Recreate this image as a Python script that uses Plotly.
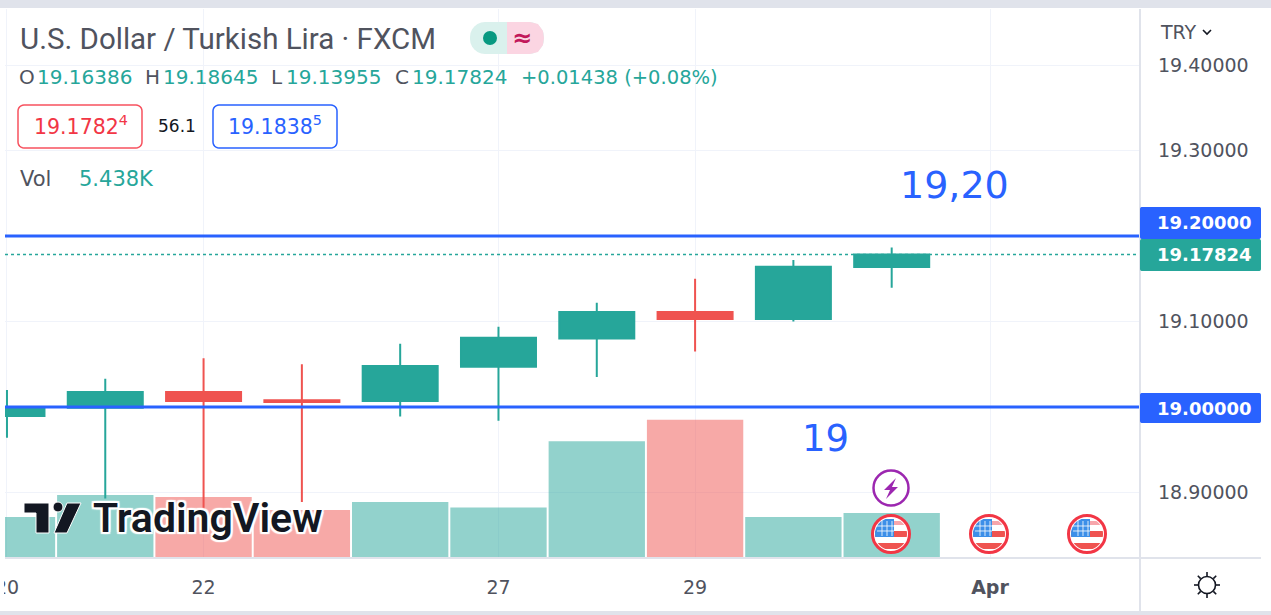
import math
import plotly.graph_objects as go

W, H = 1271, 615
L, R, T, B = 5, 1140, 9, 558

days = ["Mar 20", "Mar 21", "Mar 22", "Mar 23", "Mar 24", "Mar 27", "Mar 28", "Mar 29", "Mar 30", "Mar 31", "Apr 3", "Apr 4"]
candle_days = days[:10]
opens = [18.9895, 18.999, 19.0175, 19.008, 19.007, 19.047, 19.08, 19.111, 19.103, 19.16386]
highs = [19.02, 19.033, 19.057, 19.05, 19.074, 19.094, 19.122, 19.15, 19.172, 19.18645]
lows = [18.964, 18.893, 18.88, 18.889, 18.989, 18.984, 19.035, 19.065, 19.1, 19.13955]
closes = [19.0, 19.0175, 19.007, 19.006, 19.048, 19.081, 19.111, 19.103, 19.164, 19.17824]
volumes = [4.95, 7.6, 7.37, 5.8, 6.77, 6.1, 14.1, 16.7, 4.95, 5.438]
price_ticks = [18.9, 19.0, 19.1, 19.2, 19.3, 19.4]
price_ticktext = ["18.90000", "", "19.10000", "", "19.30000", "19.40000"]
time_tickvals = ["Mar 20", "Mar 22", "Mar 27", "Mar 29", "Apr 3"]
time_ticktext = ["20", "22", "27", "29", "<b>Apr</b>"]
level_lines = [19.0, 19.2]
last_price = 19.17824

GREEN, RED, BLUE = "#26a69a", "#ef5350", "#2962ff"
GREY = "#50535e"
FONT = "DejaVu Sans"
LINE = "#e0e3eb"
GRID = "#f0f3fa"


def fx(px):
    return px / W


def fy(py):
    return 1 - py / H


def poly(points, close=True):
    s = "M" + " L".join(f"{fx(x):.5f},{fy(y):.5f}" for x, y in points)
    return s + (" Z" if close else "")


def rrect(x0, y0, x1, y1, r, fill=None, line=None, lw=0):
    pts = []
    corners = [(x1 - r, y0 + r, -90), (x1 - r, y1 - r, 0), (x0 + r, y1 - r, 90), (x0 + r, y0 + r, 180)]
    for cx, cy, a0 in corners:
        for k in range(7):
            a = math.radians(a0 + 15 * k)
            pts.append((cx + r * math.cos(a), cy + r * math.sin(a)))
    return dict(type="path", xref="paper", yref="paper", path=poly(pts), fillcolor=fill or "rgba(0,0,0,0)",
                line=dict(color=line or "rgba(0,0,0,0)", width=lw), layer="above")


def shape_poly(points, fill=None, line=None, lw=0, close=True):
    return dict(type="path", xref="paper", yref="paper", path=poly(points, close),
                fillcolor=fill or "rgba(0,0,0,0)", line=dict(color=line or "rgba(0,0,0,0)", width=lw), layer="above")


def circle(cx, cy, r, fill=None, line=None, lw=0):
    return dict(type="circle", xref="paper", yref="paper", x0=fx(cx - r), x1=fx(cx + r), y0=fy(cy + r), y1=fy(cy - r),
                fillcolor=fill or "rgba(0,0,0,0)", line=dict(color=line or "rgba(0,0,0,0)", width=lw), layer="above")


def rect(x0, y0, x1, y1, fill):
    return dict(type="rect", xref="paper", yref="paper", x0=fx(x0), x1=fx(x1), y0=fy(y1), y1=fy(y0),
                fillcolor=fill, line=dict(width=0), layer="above")


def band(cx, cy, r, y0, y1, xmax=None):
    left, right = [], []
    for i in range(9):
        y = y0 + (y1 - y0) * i / 8
        d = math.sqrt(max(r * r - y * y, 0))
        left.append((cx - d, cy + y))
        rx = d if xmax is None else min(d, xmax)
        right.append((cx + rx, cy + y))
    return left + right[::-1]


def flag(cx, cy):
    out = [circle(cx, cy, 18.5, fill="white", line="#f23645", lw=3)]
    for y0, y1, col in [(-13, -9, "#f7a6ab"), (-3, 3, "#ef5350"), (9, 15, "#ef5350")]:
        out.append(shape_poly(band(cx, cy, 16, y0, y1), fill=col))
    out.append(shape_poly(band(cx, cy, 16, -15, 3, xmax=3), fill="#3d8fe8"))
    for dx in (-9, -4, 1):
        out.append(shape_poly([(cx + dx, cy - 13), (cx + dx, cy + 2)], line="rgba(255,255,255,.8)", lw=1, close=False))
    for dy in (-8, -3):
        out.append(shape_poly([(cx - 14, cy + dy), (cx + 3, cy + dy)], line="rgba(255,255,255,.8)", lw=1, close=False))
    return out


def note(x, y, text, size=20, color=GREY, anchor="left", family=FONT, **font):
    return dict(xref="paper", yref="paper", x=fx(x), y=fy(y), text=text, showarrow=False, xanchor=anchor, yanchor="middle",
                borderpad=0, font=dict(family=family, size=size, color=color, **font))


def hline(value, color, width, dash="solid"):
    return dict(type="line", xref="paper", yref="y2", x0=fx(L), x1=fx(R), y0=value, y1=value,
                line=dict(color=color, width=width, dash=dash), layer="above")


vol_colors = ["rgba(38,166,154,.5)" if c >= o else "rgba(239,83,80,.5)" for o, c in zip(opens, closes)]

fig = go.Figure()
fig.add_trace(go.Bar(x=candle_days, y=volumes, marker=dict(color=vol_colors, line=dict(width=0)), width=0.98,
                     showlegend=False, hoverinfo="skip", yaxis="y"))
fig.add_trace(go.Candlestick(x=candle_days, open=opens, high=highs, low=lows, close=closes, yaxis="y2", showlegend=False,
                             whiskerwidth=0,
                             increasing=dict(line=dict(color=GREEN, width=2), fillcolor=GREEN),
                             decreasing=dict(line=dict(color=RED, width=2), fillcolor=RED)))

shapes = [
    rect(0, 0, W, T - 1, "#e0e3eb"),
    rect(0, 611, W, H, "#e0e3eb"),
    rect(0, T - 1, 4, 611, "white"),
    hline(last_price, GREEN, 1.5, "dot"),
    hline(level_lines[0], BLUE, 3),
    hline(level_lines[1], BLUE, 3),
    rect(R - 1, T, R + 1, 611, LINE),
    rect(L, B - 1, W - 10, B + 1, LINE),
    rrect(1140, 207, 1261, 239, 2, fill=BLUE),
    rrect(1140, 239, 1261, 271, 2, fill=GREEN),
    rrect(1140, 393, 1261, 423, 2, fill=BLUE),
    rrect(470, 22, 544, 54, 15, fill="#daf1ed"),
    dict(type="path", xref="paper", yref="paper", layer="above", fillcolor="#fbd5e2", line=dict(width=0),
         path=poly([(507, 22), (530, 22), (538, 24), (543, 31), (544, 38), (543, 45), (538, 52), (530, 54), (507, 54)])),
    circle(490, 38, 7, fill="#089981"),
    rrect(18, 105, 142, 148, 6, line="#f7525f", lw=1.5),
    rrect(213, 105, 337, 148, 6, line=BLUE, lw=1.5),
    shape_poly([(24, 503), (49, 503), (49, 533), (36, 533), (36, 513), (24, 513)], fill="#131722", line="white", lw=1),
    circle(58, 507, 5, fill="#131722", line="white", lw=1),
    shape_poly([(67, 503), (81, 503), (67, 533), (54, 533)], fill="#131722", line="white", lw=1),
    circle(891, 488, 17.5, fill="white", line="#9c27b0", lw=2.5),
    shape_poly([(896, 478), (884, 490), (890, 490), (886, 499), (898, 487), (892, 487)], fill="#9c27b0"),
    circle(1207, 585, 8.5, line="#131722", lw=1.6),
    shape_poly([(1203, 30), (1207, 34), (1211, 30)], line="#131722", lw=1.6, close=False),
]
for cx in (891, 989, 1087):
    shapes += flag(cx, 534)
for k in range(8):
    a = math.radians(45 * k)
    shapes.append(shape_poly([(1207 + 9 * math.cos(a), 585 + 9 * math.sin(a)), (1207 + 13 * math.cos(a), 585 + 13 * math.sin(a))],
                             line="#131722", lw=1.6, close=False))

annotations = [
    note(19, 39, "U.S. Dollar / Turkish Lira · FXCM", size=29.5, family="Roboto"),
    note(18, 77, "O", size=20),
    note(36, 77, "19.16386", size=20, color=GREEN),
    note(144, 77, "H", size=20),
    note(162, 77, "19.18645", size=20, color=GREEN),
    note(270, 77, "L", size=20),
    note(285, 77, "19.13955", size=20, color=GREEN),
    note(394, 77, "C", size=20),
    note(411, 77, "19.17824", size=20, color=GREEN),
    note(520, 77, "+0.01438 (+0.08%)", size=19.5, color=GREEN),
    note(81, 126, "19.1782<sup>4</sup>", size=20.5, color="#f23645", anchor="center"),
    note(177, 126, "56.1", size=17, color="#131722", anchor="center"),
    note(275, 126, "19.1838<sup>5</sup>", size=20.5, color=BLUE, anchor="center"),
    note(19, 179, "Vol", size=21),
    note(78, 179, "5.438K", size=21, color=GREEN),
    note(522, 38, "≈", size=24, color="#c2185b", anchor="center", weight="bold"),
    note(1159, 32, "TRY", size=19),
    note(1204, 223, "19.20000", size=18, color="white", anchor="center", weight="bold"),
    note(1204, 255, "19.17824", size=18, color="white", anchor="center", weight="bold"),
    note(1204, 408, "19.00000", size=18, color="white", anchor="center", weight="bold"),
    note(954, 185, "19,20", size=38, color=BLUE, anchor="center"),
    note(825, 438, "19", size=37, color=BLUE, anchor="center"),
    note(92, 518, "TradingView", size=41, color="#131722", family="Roboto", weight=600,
         shadow="2px 0 1px white, -2px 0 1px white, 0 2px 1px white, 0 -2px 1px white, 2px 2px 1px white, -2px -2px 1px white, 2px -2px 1px white, -2px 2px 1px white"),
]

x_lo = -0.02
x_hi = (R - 7) / 98.3

fig.update_layout(
    width=W, height=H, autosize=False, margin=dict(l=0, r=0, t=0, b=0, autoexpand=False),
    paper_bgcolor="white", plot_bgcolor="white", showlegend=False, boxgap=0.237, boxgroupgap=0, bargap=0.02,
    font=dict(family=FONT, color=GREY),
    xaxis=dict(type="category", categoryorder="array", categoryarray=days, domain=[fx(L), fx(R)], range=[x_lo, x_hi],
               tickmode="array", tickvals=time_tickvals, ticktext=time_ticktext, tickfont=dict(family=FONT, size=19, color=GREY),
               ticks="", showgrid=True, gridcolor=GRID, gridwidth=1, zeroline=False, showline=False, rangeslider=dict(visible=False),
               ticklabelstandoff=16),
    yaxis=dict(domain=[1 - B / H, 1 - T / H], range=[0, 66.3], visible=False, showgrid=False, zeroline=False),
    yaxis2=dict(overlaying="y", side="right", anchor="x", range=[18.8234, 19.4655], tickmode="array", tickvals=price_ticks,
                ticktext=price_ticktext, tickfont=dict(family=FONT, size=19, color=GREY), ticks="", showgrid=True, gridcolor=GRID,
                gridwidth=1, zeroline=False, showline=False, ticklabelstandoff=17),
    shapes=shapes, annotations=annotations,
)

fig.write_html("out.html", config={"displayModeBar": False},
               post_script="document.body.style.margin='0';document.body.style.overflow='hidden';")
